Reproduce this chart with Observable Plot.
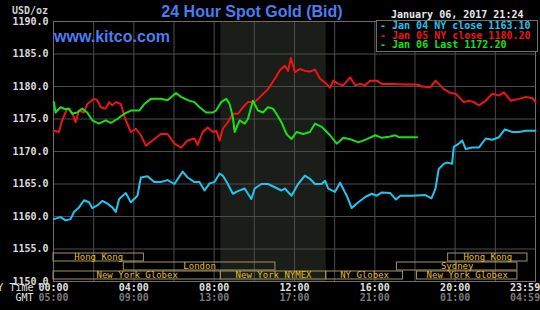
<!DOCTYPE html>
<html>
<head>
<meta charset="utf-8">
<script src="https://cdn.jsdelivr.net/npm/d3@7"></script>
<script src="https://cdn.jsdelivr.net/npm/@observablehq/plot@0.6"></script>
<style>
  html, body { margin: 0; padding: 0; background: #000; }
  #wrap { position: relative; width: 540px; height: 310px; overflow: hidden; background: #000; }
  #wrap svg { position: absolute; left: 0; top: 0; }
</style>
</head>
<body>
<div id="wrap"></div>
<script>
// ---------- data ----------
const titleText = "24 Hour Spot Gold (Bid)";
const siteText = "www.kitco.com";
const unitText = "USD/oz";
const dateText = "January 06, 2017 21:24";
const legendLabels = ["Jan 04 NY close 1163.10", "Jan 05 NY close 1180.20", "Jan 06 Last 1172.20"];

const yTicks = [1150, 1155, 1160, 1165, 1170, 1175, 1180, 1185, 1190];
const gridHours = [0, 2, 4, 6, 8, 10, 12, 14, 16, 18, 20, 22, 24];
const xTickHours = [0, 4, 8, 12, 16, 20, 23.983];
const nyTimeLabels = ["00:00", "04:00", "08:00", "12:00", "16:00", "20:00", "23:59"];
const gmtLabels = ["05:00", "09:00", "13:00", "17:00", "21:00", "01:00", "04:59"];
const axisRowLabels = ["NY Time", "GMT"];

const nymexHours = [8.333, 13.58];

const sessionNames = ["Hong Kong", "London", "New York Globex", "New York NYMEX", "NY Globex", "Sydney", "New York Globex", "Hong Kong"];
const sessionRows  = [1, 2, 3, 3, 3, 2, 3, 1];
const sessionStart = [0, 3.5, 0, 8.333, 13.58, 17.1, 18.1, 19.65];
const sessionEnd   = [4.5, 11.05, 8.333, 13.58, 17.4, 23.1, 23.1, 23.6];

// [hour (NY time), price]
const jan04 = [[0.02,1159.6],[0.35,1159.9],[0.6,1159.4],[0.85,1159.6],[1.02,1160.7],[1.27,1161.4],[1.52,1162.5],[1.77,1162.2],[1.93,1161.3],[2.18,1161.7],[2.43,1162.4],[2.68,1162.0],[2.93,1161.4],[3.1,1160.7],[3.27,1162.7],[3.6,1163.6],[3.85,1162.2],[4.18,1163.2],[4.35,1166.0],[4.68,1166.2],[5.02,1165.3],[5.35,1165.3],[5.68,1165.6],[6.02,1165.0],[6.43,1166.9],[6.68,1166.0],[7.02,1165.3],[7.27,1165.3],[7.52,1164.0],[7.77,1165.1],[8.02,1165.3],[8.27,1166.6],[8.43,1166.3],[8.68,1165.0],[8.93,1163.5],[9.18,1163.9],[9.52,1164.3],[9.85,1162.7],[10.02,1164.3],[10.35,1165.0],[10.68,1165.0],[11.02,1164.5],[11.35,1164.0],[11.52,1164.3],[11.85,1163.2],[12.18,1165.0],[12.52,1166.3],[12.77,1165.8],[13.02,1165.0],[13.35,1165.0],[13.52,1165.5],[13.68,1164.3],[14.02,1163.8],[14.27,1165.2],[14.6,1163.2],[14.85,1161.3],[15.18,1162.2],[15.52,1163.0],[15.85,1163.5],[16.1,1163.2],[16.35,1163.7],[16.77,1163.6],[17.05,1162.6],[17.27,1163.2],[17.85,1163.2],[18.52,1163.3],[18.82,1162.8],[19.02,1164.3],[19.18,1167.3],[19.43,1168.1],[19.6,1168.3],[19.85,1168.1],[19.93,1170.7],[20.18,1171.2],[20.35,1171.7],[20.52,1170.4],[20.85,1170.6],[21.18,1170.6],[21.52,1172.0],[21.85,1171.8],[22.18,1172.2],[22.47,1173.4],[22.85,1173.0],[23.18,1173.0],[23.52,1173.2],[24,1173.2]];

const jan05 = [[0.02,1173.2],[0.27,1173.0],[0.43,1174.8],[0.68,1176.6],[0.93,1176.0],[1.1,1174.5],[1.27,1176.3],[1.52,1176.0],[1.68,1177.3],[2.02,1178.1],[2.18,1177.9],[2.35,1176.8],[2.6,1176.6],[2.77,1177.6],[2.93,1177.1],[3.1,1177.6],[3.35,1177.3],[3.6,1174.8],[3.85,1173.0],[4.1,1173.5],[4.35,1172.5],[4.6,1170.9],[4.93,1171.7],[5.35,1172.7],[5.68,1172.7],[6.02,1171.2],[6.35,1170.6],[6.68,1171.7],[7.02,1172.0],[7.18,1171.0],[7.43,1173.0],[7.68,1173.7],[7.93,1173.0],[8.1,1173.2],[8.27,1171.7],[8.43,1173.5],[8.68,1174.5],[8.93,1175.8],[9.18,1175.8],[9.43,1176.8],[9.68,1177.6],[10.02,1177.6],[10.35,1178.6],[10.68,1179.6],[11.02,1181.2],[11.27,1182.5],[11.52,1183.2],[11.68,1182.4],[11.82,1184.4],[12.02,1182.2],[12.27,1182.7],[12.52,1182.4],[12.77,1182.3],[13.02,1182.6],[13.27,1181.2],[13.52,1180.6],[13.77,1179.8],[13.93,1180.9],[14.18,1180.4],[14.43,1180.2],[14.77,1181.4],[15.02,1180.2],[15.27,1180.4],[15.52,1180.2],[15.77,1180.9],[16.1,1180.9],[16.35,1180.4],[16.85,1180.4],[17.52,1180.3],[18.1,1180.3],[18.35,1180.0],[18.77,1179.9],[19.02,1180.9],[19.18,1180.4],[19.43,1179.6],[19.77,1179.0],[20.02,1178.9],[20.43,1177.6],[20.68,1177.8],[20.93,1177.6],[21.18,1177.1],[21.52,1177.8],[21.85,1178.9],[22.18,1178.6],[22.43,1179.1],[22.77,1177.8],[23.18,1178.1],[23.52,1178.4],[23.85,1178.2],[24,1177.6]];

const jan06 = [[0.02,1177.6],[0.1,1176.0],[0.35,1176.8],[0.6,1176.5],[0.77,1176.6],[0.93,1175.8],[1.18,1176.0],[1.43,1176.6],[1.68,1176.0],[1.93,1174.8],[2.27,1174.3],[2.6,1174.8],[2.85,1174.4],[3.18,1175.0],[3.52,1175.8],[3.85,1176.3],[4.27,1176.3],[4.52,1177.3],[4.85,1178.1],[5.35,1178.1],[5.68,1177.9],[6.1,1179.0],[6.35,1178.4],[6.68,1177.9],[7.02,1177.6],[7.27,1176.8],[7.6,1176.0],[7.93,1176.0],[8.1,1176.3],[8.35,1177.6],[8.6,1178.1],[8.77,1177.3],[8.93,1175.3],[9.02,1173.0],[9.27,1174.8],[9.52,1174.3],[9.68,1175.0],[9.93,1177.8],[10.18,1176.3],[10.43,1176.0],[10.68,1176.8],[10.93,1176.6],[11.1,1175.8],[11.35,1174.5],[11.6,1172.7],[11.85,1171.9],[12.1,1173.0],[12.43,1172.7],[12.77,1173.0],[13.02,1174.3],[13.35,1173.8],[13.77,1172.5],[14.1,1171.2],[14.43,1172.1],[14.77,1171.9],[15.18,1171.4],[15.6,1171.9],[16.02,1172.5],[16.35,1172.1],[16.77,1172.3],[17.02,1172.5],[17.18,1172.2],[18.1,1172.2]];

// ---------- drawing ----------
const MONO = "'DejaVu Sans Mono', monospace";
const SANS = "'Liberation Sans', Arial, sans-serif";
const seriesColors = ["#22c4ee", "#f01414", "#18e018"];
const W = 540, H = 310;
const margins = {marginLeft: 53, marginRight: 5, marginTop: 21, marginBottom: 29};

const xTicks = xTickHours.map((h, i) => ({h, ny: nyTimeLabels[i], gmt: gmtLabels[i]}));
const mainTicks = xTicks.slice(0, -1);
const lastTick = xTicks.slice(-1);
const sessions = sessionNames.map((name, i) => ({name, row: sessionRows[i], start: sessionStart[i], end: sessionEnd[i]}));

const wrap = document.getElementById("wrap");

const chart = Plot.plot({
  width: W, height: H, ...margins,
  style: {background: "#000", color: "#ddd", fontFamily: MONO, fontSize: "10px", overflow: "visible"},
  x: {domain: [0, 24], axis: null},
  y: {domain: [1150, 1190], axis: null},
  marks: [
    Plot.barX([nymexHours], {x1: d => d[0], x2: d => d[1], fill: "#1b1d18"}),
    Plot.ruleX(gridHours, {stroke: "#4c4c4c", strokeWidth: 1}),
    Plot.ruleY(yTicks, {stroke: "#4c4c4c", strokeWidth: 1}),
    Plot.frame({stroke: "#6e6e6e"}),
    Plot.line(jan04, {x: d => d[0], y: d => d[1], stroke: seriesColors[0], strokeWidth: 2}),
    Plot.line(jan05, {x: d => d[0], y: d => d[1], stroke: seriesColors[1], strokeWidth: 2}),
    Plot.line(jan06, {x: d => d[0], y: d => d[1], stroke: seriesColors[2], strokeWidth: 2}),
    Plot.text(yTicks, {y: d => d, text: d => d.toFixed(1), frameAnchor: "left", dx: -5, textAnchor: "end", fill: "#dcdcdc", fontWeight: "bold", fontSize: 10}),
    Plot.text(mainTicks, {x: "h", text: "ny", frameAnchor: "bottom", dy: 9, fill: "#e0e0e0", fontWeight: "bold", fontSize: 10}),
    Plot.text(mainTicks, {x: "h", text: "gmt", frameAnchor: "bottom", dy: 19, fill: "#7a7a7a", fontWeight: "bold", fontSize: 10}),
    Plot.text(lastTick, {x: "h", text: "ny", frameAnchor: "bottom", dy: 9, dx: 5, textAnchor: "end", fill: "#e0e0e0", fontWeight: "bold", fontSize: 10}),
    Plot.text(lastTick, {x: "h", text: "gmt", frameAnchor: "bottom", dy: 19, dx: 5, textAnchor: "end", fill: "#7a7a7a", fontWeight: "bold", fontSize: 10}),
    Plot.text([axisRowLabels[0]], {text: d => d, frameAnchor: "bottom-left", dx: -20, dy: 9, textAnchor: "end", fill: "#e0e0e0", fontSize: 10}),
    Plot.text([axisRowLabels[1]], {text: d => d, frameAnchor: "bottom-left", dx: -20, dy: 19, textAnchor: "end", fill: "#e0e0e0", fontSize: 10})
  ]
});
wrap.appendChild(chart);

const sessionChart = Plot.plot({
  width: W, height: H, ...margins,
  style: {background: "transparent", fontFamily: MONO},
  x: {domain: [0, 24], axis: null},
  y: {type: "band", domain: [1, 2, 3], range: [251.8, 281.2], padding: 0.08, axis: null},
  marks: [
    Plot.barX(sessions, {x1: "start", x2: "end", y: "row", fill: "none", stroke: "#9c9662", strokeWidth: 1}),
    Plot.text(sessions, {x: d => (d.start + d.end) / 2, y: "row", text: "name", fill: "#e6bd22", fontSize: 9})
  ]
});
wrap.appendChild(sessionChart);

// annotations
const ann = d3.create("svg").attr("width", W).attr("height", H);
ann.append("text").attr("x", 252).attr("y", 17).attr("text-anchor", "middle")
  .style("font", `bold 16px ${SANS}`).attr("fill", "#4b7cf0").text(titleText);
ann.append("text").attr("x", 54).attr("y", 42)
  .style("font", `bold 16px ${SANS}`).attr("fill", "#4b7cf0").text(siteText);
ann.append("text").attr("x", 12).attr("y", 14)
  .style("font", `bold 10px ${MONO}`).attr("fill", "#d0d0d0").text(unitText);
ann.append("text").attr("x", 391).attr("y", 18)
  .style("font", `bold 10px ${MONO}`).attr("fill", "#e8e8e8").text(dateText);
ann.append("rect").attr("x", 376.5).attr("y", 20.5).attr("width", 161).attr("height", 31)
  .attr("fill", "#000").attr("stroke", "#6e6e6e");
legendLabels.forEach((lab, i) => {
  ann.append("text").attr("x", 380).attr("y", 29 + i * 9.5)
    .style("font", `bold 10px ${MONO}`).attr("fill", seriesColors[i]).text("- " + lab);
});
wrap.appendChild(ann.node());
</script>
</body>
</html>
